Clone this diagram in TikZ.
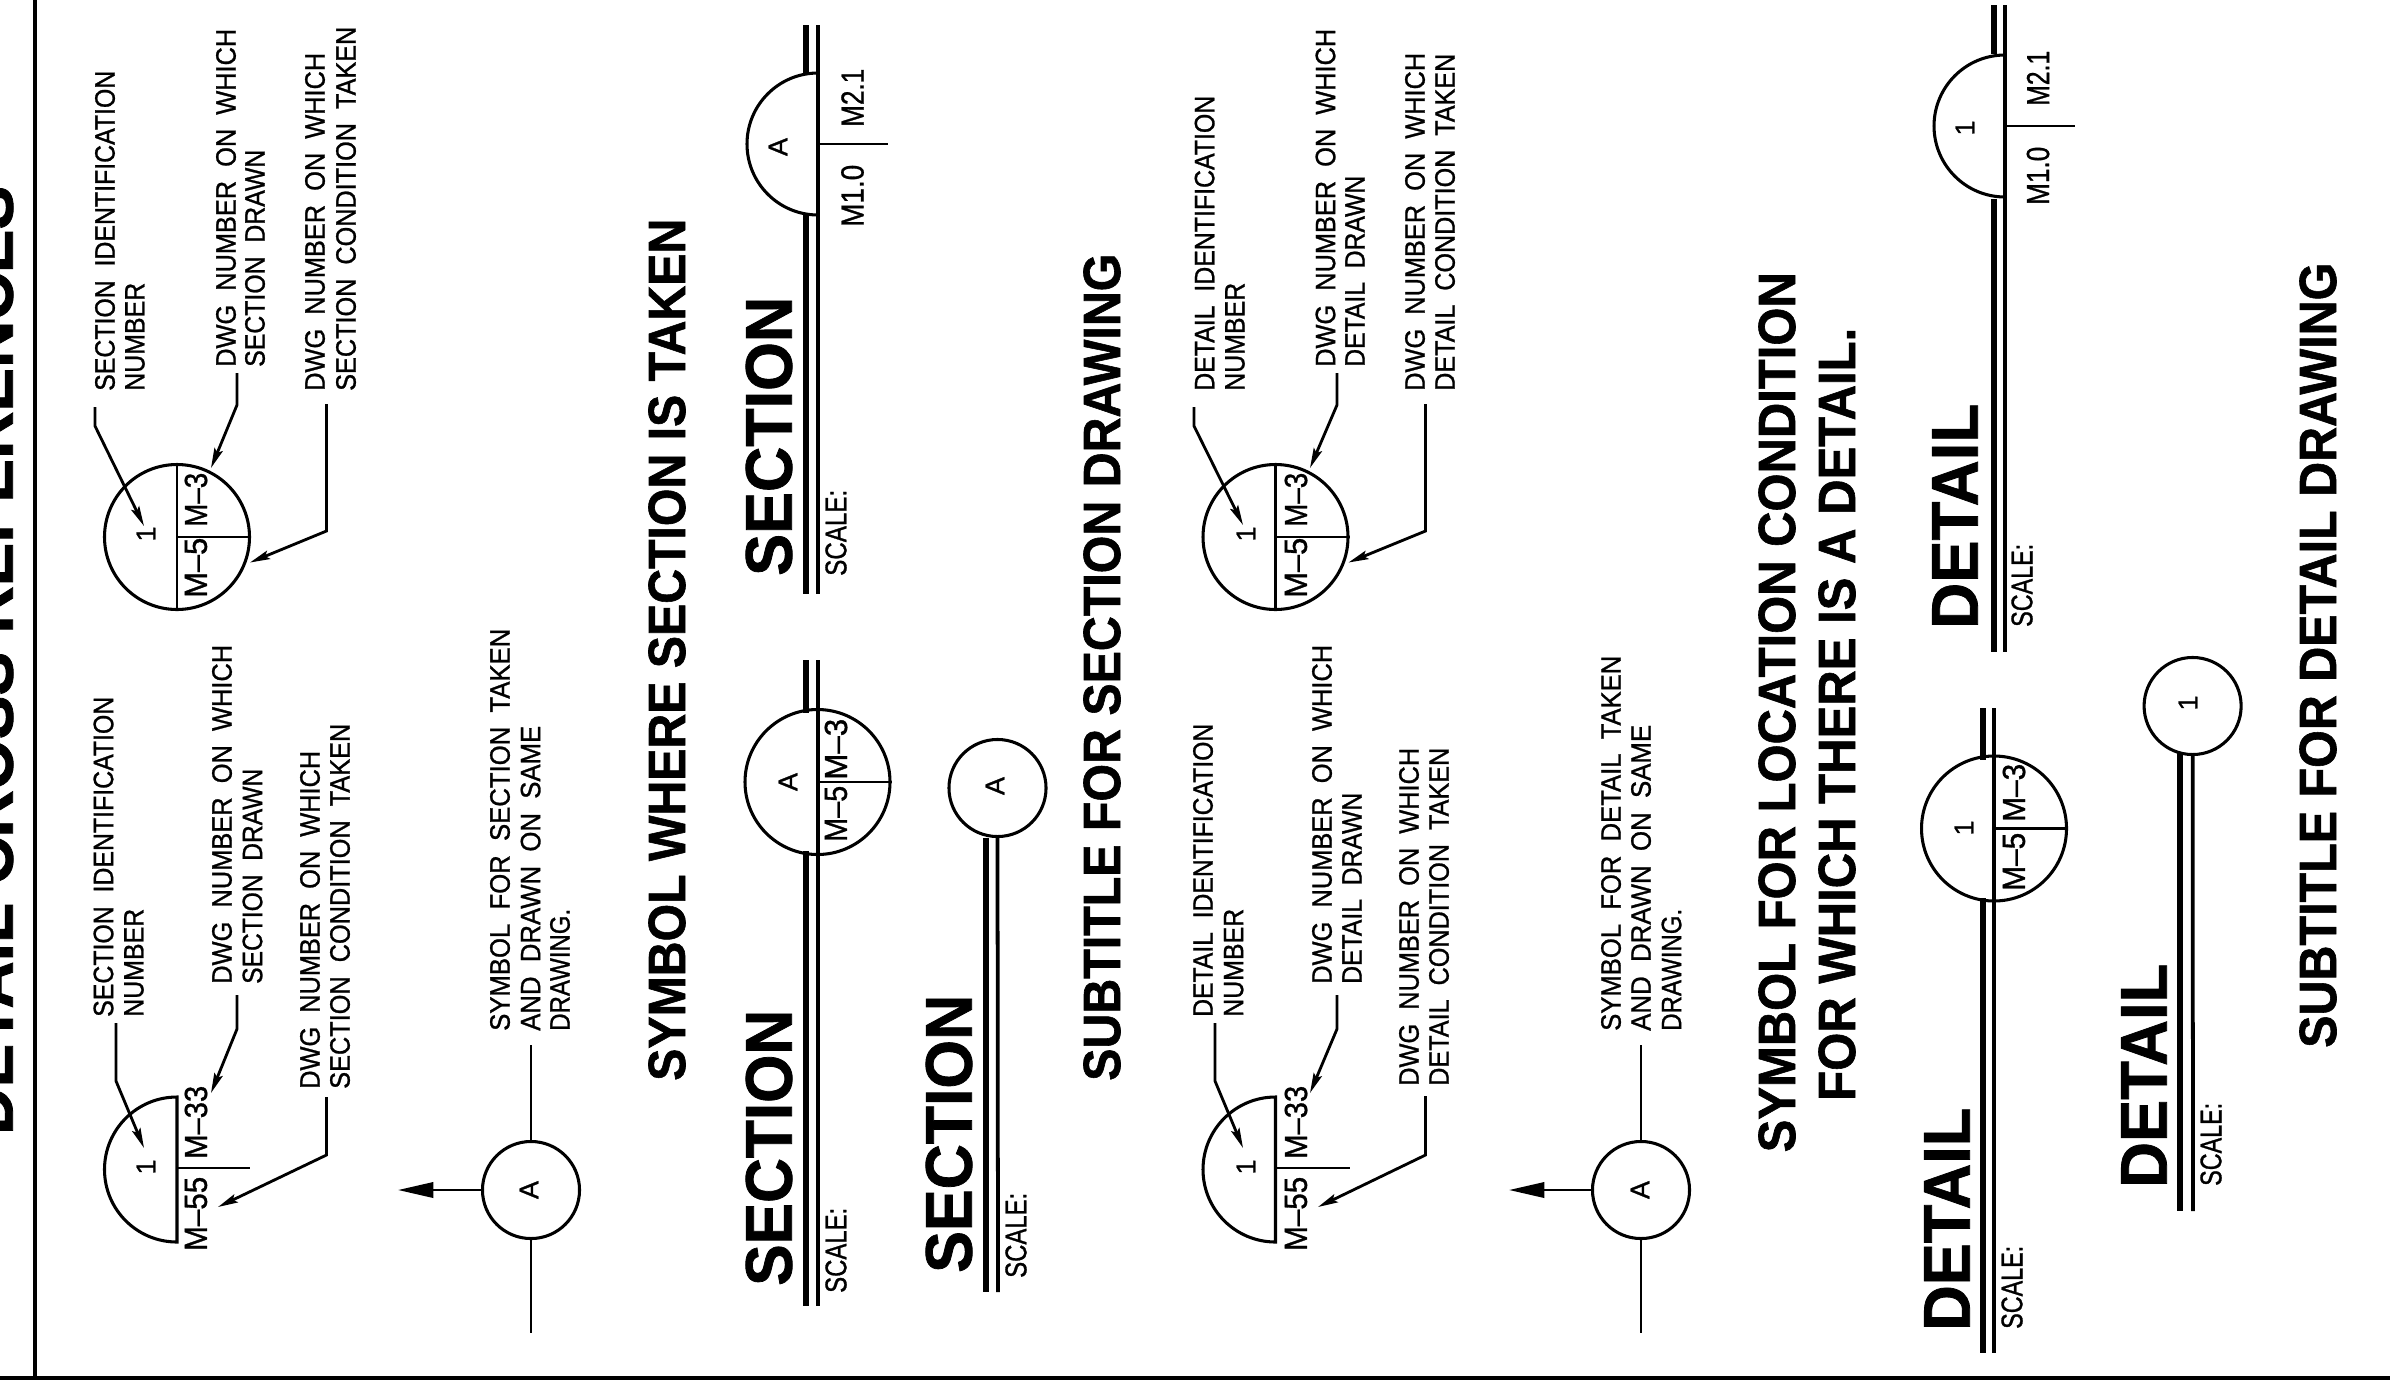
\documentclass[tikz,border=0pt]{standalone}
\usepackage{graphicx}
\usepackage{fontspec}
\setmainfont{Liberation Sans}
\newfontfamily\labf[RawFeature={embolden=1.0}]{Liberation Sans}
\newfontfamily\bigf[RawFeature={embolden=1.2}]{Liberation Sans}
\usetikzlibrary{arrows.meta}
\newdimen\pxu \pxu=0.85pt
\newcommand{\tx}[6]{\node[#2] (#1) at (#3,#4) {\resizebox{#5\pxu}{\height}{#6}};}
\newcommand{\leaderline}[4]{%
  \coordinate (#1-a) at #2; \coordinate (#1-b) at #3; \coordinate (#1-c) at #4;
  \draw[leader] (#1-a) -- (#1-b) -- (#1-c);}
\tikzset{
  rot/.style={rotate=90,inner sep=0pt,anchor=west},
  lab/.style={rot,font=\labf\fontsize{23.8pt}{24pt}\selectfont},
  sym/.style={rot,font=\labf\fontsize{27.2pt}{28pt}\selectfont},
  scl/.style={rot,font=\labf\fontsize{25.5pt}{26pt}\selectfont},
  ttl/.style={rot,font=\bigf\fontsize{44.5pt}{45pt}\selectfont\bfseries},
  big/.style={rot,font=\bigf\fontsize{56pt}{57pt}\selectfont\bfseries},
  mrk/.style={rotate=90,inner sep=0pt,anchor=center,font=\labf\fontsize{23pt}{24pt}\selectfont},
  bigcirc/.style={circle,draw,line width=2.6pt,inner sep=0pt,minimum size=123.25pt},
  smallcirc/.style={circle,draw,line width=2.6pt,inner sep=0pt,minimum size=82.5pt},
  arcline/.style={line width=2.6pt},
  hair/.style={line width=2pt},
  leader/.style={line width=2.4pt,-{Stealth[length=17pt,width=7.5pt,inset=3pt]}},
  plain/.style={line width=2.2pt},
  cut/.style={line width=2.2pt,-{Stealth[length=30pt,width=13pt,inset=0pt]}},
  thickrule/.style={line width=5.6pt},
  thinrule/.style={line width=3.2pt},
  frameline/.style={line width=3pt},
}
\begin{document}
\begin{tikzpicture}[x=0.85pt,y=-0.85pt]
\useasboundingbox (0,0) rectangle (2390,1386);
\fill[white] (0,0) rectangle (2390,1386);
\clip (0,0) rectangle (2390,1386);
% frame
\coordinate (f1) at (35,0); \coordinate (f2) at (35,1378);
\coordinate (f3) at (0,1378); \coordinate (f4) at (2390,1378);
\draw[frameline] (f1) -- (f2);
\draw[frameline,line width=3.4pt] (f3) -- (f4);
\node[big,anchor=base west] (maintitle) at (12.7,1135) {\resizebox{949\pxu}{\height}{DETAIL CROSS REFERENCES}};

% ---- Block A
\node[bigcirc] (ca) at (177,537) {};
\draw[hair,line width=2.4pt] (ca.north) -- (ca.south);
\draw[hair] (ca.center) -- (ca.east);
\node[mrk] (ca1) at (146,534) {1};
\tx{ca3}{sym}{196}{527}{54}{M–3}
\tx{ca5}{sym}{196}{598}{60}{M–5}
\tx{a1}{lab}{105}{391}{320}{SECTION~~IDENTIFICATION}
\tx{a2}{lab}{135}{391}{108}{NUMBER}
\leaderline{la1}{(95,407)}{(95,426)}{(144,526)}
\tx{a3}{lab}{226}{367}{338}{DWG~~NUMBER~~ON~~WHICH}
\tx{a4}{lab}{255}{367}{217}{SECTION~~DRAWN}
\leaderline{la2}{(237,373)}{(237,405)}{(211,468)}
\tx{a5}{lab}{315}{391}{338}{DWG~~NUMBER~~ON~~WHICH}
\tx{a6}{lab}{346}{391}{364}{SECTION~~CONDITION~~TAKEN}
\leaderline{la3}{(326.5,404)}{(326.5,531)}{(250,562.5)}

% ---- Block B
\coordinate (hb-t) at (177,1097); \coordinate (hb-c) at (177,1168); \coordinate (hb-e) at (250,1168);
\draw[arcline] (hb-t) arc[start angle=-90,end angle=-270,radius=72.5] -- cycle;
\draw[hair] (hb-c) -- (hb-e);
\node[mrk] (hb1) at (146,1167) {1};
\tx{hb3}{sym}{196}{1159}{73}{M–33}
\tx{hb5}{sym}{196}{1251}{74}{M–55}
\tx{b1}{lab}{103.5}{1017}{320}{SECTION~~IDENTIFICATION}
\tx{b2}{lab}{134}{1017}{108}{NUMBER}
\leaderline{lb1}{(116,1023)}{(116,1081)}{(144,1148)}
\tx{b3}{lab}{222}{984}{339}{DWG~~NUMBER~~ON~~WHICH}
\tx{b4}{lab}{252.5}{984}{215}{SECTION~~DRAWN}
\leaderline{lb2}{(237,995)}{(237,1029)}{(211,1093)}
\tx{b5}{lab}{310}{1089}{338}{DWG~~NUMBER~~ON~~WHICH}
\tx{b6}{lab}{340}{1089}{365}{SECTION~~CONDITION~~TAKEN}
\leaderline{lb3}{(326.5,1097)}{(326.5,1155)}{(218,1207)}

% ---- Symbol A (section)
\node[smallcirc] (sa) at (531,1190) {};
\node[mrk] (saA) at (529,1190) {A};
\coordinate (sa-t) at (531,1045); \coordinate (sa-b) at (531,1333); \coordinate (sa-l) at (398,1190);
\draw[plain] (sa-t) -- (sa.north);
\draw[plain] (sa.south) -- (sa-b);
\draw[cut] (sa.west) -- (sa-l);
\tx{s1}{lab}{500}{1031}{402}{SYMBOL~~FOR~~SECTION~~TAKEN}
\tx{s2}{lab}{530.6}{1031}{305}{AND~~DRAWN~~ON~~SAME}
\tx{s3}{lab}{560}{1031}{122}{DRAWING.}

\tx{t1}{ttl}{667}{1081}{862}{SYMBOL WHERE SECTION IS TAKEN}

% ---- SECTION with half circle (top)
\tx{u1}{big}{769}{576}{279}{SECTION}
\coordinate (u-tt) at (806,25); \coordinate (u-tb) at (806,74);
\coordinate (u-bt) at (806,215); \coordinate (u-bb) at (806,594);
\coordinate (u-nt) at (818,25); \coordinate (u-nb) at (818,594);
\coordinate (u-at) at (818,73); \coordinate (u-h1) at (818,144); \coordinate (u-h2) at (888,144);
\draw[thickrule] (u-tt) -- (u-tb);
\draw[thickrule] (u-bt) -- (u-bb);
\draw[thinrule] (u-nt) -- (u-nb);
\draw[arcline] (u-at) arc[start angle=-90,end angle=-270,radius=71];
\draw[hair] (u-h1) -- (u-h2);
\node[mrk] (uA) at (778,147) {A};
\tx{u2}{sym}{852.5}{127}{58}{M2.1}
\tx{u3}{sym}{852.5}{227}{62}{M1.0}
\tx{u4}{scl}{836}{576}{86}{SCALE:}

% ---- SECTION with full circle
\tx{v1}{big}{769}{1286}{276}{SECTION}
\node[bigcirc] (vc) at (817.5,782) {};
\coordinate (v-tt) at (806,660); \coordinate (v-tb) at (806,713);
\coordinate (v-bt) at (806,851); \coordinate (v-bb) at (806,1306);
\coordinate (v-nt) at (818,660); \coordinate (v-nb) at (818,1306);
\draw[thickrule] (v-tt) -- (v-tb);
\draw[thickrule] (v-bt) -- (v-bb);
\draw[thinrule] (v-nt) -- (v-nb);
\draw[hair] (vc.center) -- (vc.east);
\node[mrk] (vA) at (788,782) {A};
\tx{v3}{sym}{836}{780}{61}{M–3}
\tx{v5}{sym}{836}{842}{56}{M–5}
\tx{v4}{scl}{836}{1293}{85}{SCALE:}

% ---- SECTION with small circle
\tx{w1}{big}{949}{1273}{278}{SECTION}
\node[smallcirc] (wc) at (997.5,788) {};
\coordinate (w-tb) at (986,838); \coordinate (w-bb) at (986,1292);
\coordinate (w-nb) at (998,1292);
\draw[thickrule] (w-tb) -- (w-bb);
\draw[thinrule] (wc.south) -- (w-nb);
\node[mrk] (wA) at (995,786) {A};
\tx{w4}{scl}{1016}{1278}{85}{SCALE:}

\tx{t2}{ttl}{1102}{1081}{827}{SUBTITLE FOR SECTION DRAWING}

% ---- Block C
\node[bigcirc] (cc) at (1275.5,537) {};
\draw[hair,line width=2.4pt] (cc.north) -- (cc.south);
\draw[hair] (cc.center) -- (cc.east);
\node[mrk] (cc1) at (1246,534) {1};
\tx{cc3}{sym}{1296}{527}{54}{M–3}
\tx{cc5}{sym}{1296}{598}{60}{M–5}
\tx{c1}{lab}{1204.6}{391}{295}{DETAIL~~IDENTIFICATION}
\tx{c2}{lab}{1235}{391}{108}{NUMBER}
\leaderline{lc1}{(1194,407)}{(1194,426)}{(1243,525)}
\tx{c3}{lab}{1325.5}{367}{338}{DWG~~NUMBER~~ON~~WHICH}
\tx{c4}{lab}{1355}{367}{191}{DETAIL~~DRAWN}
\leaderline{lc2}{(1337,373)}{(1337,405)}{(1310,468)}
\tx{c5}{lab}{1415}{391}{338}{DWG~~NUMBER~~ON~~WHICH}
\tx{c6}{lab}{1445}{391}{337}{DETAIL~~CONDITION~~TAKEN}
\leaderline{lc3}{(1425.5,404)}{(1425.5,531)}{(1348.5,562.5)}

% ---- Block D
\coordinate (hd-t) at (1275.5,1097); \coordinate (hd-c) at (1275.5,1168); \coordinate (hd-e) at (1349.5,1168);
\draw[arcline] (hd-t) arc[start angle=-90,end angle=-270,radius=72.5] -- cycle;
\draw[hair] (hd-c) -- (hd-e);
\node[mrk] (hd1) at (1246,1167) {1};
\tx{hd3}{sym}{1296}{1159}{73}{M–33}
\tx{hd5}{sym}{1296}{1251}{74}{M–55}
\tx{d1}{lab}{1203}{1017}{293}{DETAIL~~IDENTIFICATION}
\tx{d2}{lab}{1233.7}{1017}{108}{NUMBER}
\leaderline{ld1}{(1215,1023)}{(1215,1081)}{(1243,1148)}
\tx{d3}{lab}{1322}{984}{339}{DWG~~NUMBER~~ON~~WHICH}
\tx{d4}{lab}{1352}{984}{191}{DETAIL~~DRAWN}
\leaderline{ld2}{(1337,995)}{(1337,1029)}{(1310,1093)}
\tx{d5}{lab}{1409}{1086}{338}{DWG~~NUMBER~~ON~~WHICH}
\tx{d6}{lab}{1439}{1086}{338}{DETAIL~~CONDITION~~TAKEN}
\leaderline{ld3}{(1425.5,1096)}{(1425.5,1155)}{(1318,1207)}

% ---- Symbol A (detail)
\node[smallcirc] (sd) at (1641,1190) {};
\node[mrk] (sdA) at (1640,1190) {A};
\coordinate (sd-t) at (1641,1045); \coordinate (sd-b) at (1641,1333); \coordinate (sd-l) at (1509,1190);
\draw[plain] (sd-t) -- (sd.north);
\draw[plain] (sd.south) -- (sd-b);
\draw[cut] (sd.west) -- (sd-l);
\tx{e1}{lab}{1611}{1031}{375}{SYMBOL~~FOR~~DETAIL~~TAKEN}
\tx{e2}{lab}{1641}{1031}{306}{AND~~DRAWN~~ON~~SAME}
\tx{e3}{lab}{1671.5}{1031}{122}{DRAWING.}

\tx{t3}{ttl}{1777}{1152.5}{880}{SYMBOL FOR LOCATION CONDITION}
\tx{t4}{ttl}{1837}{1101}{773}{FOR WHICH THERE IS A DETAIL.}

% ---- DETAIL with half circle
\tx{x1}{big}{1955}{629}{225}{DETAIL}
\coordinate (x-tt) at (1994,5); \coordinate (x-tb) at (1994,54);
\coordinate (x-bt) at (1994,199); \coordinate (x-bb) at (1994,652);
\coordinate (x-nt) at (2005,5); \coordinate (x-nb) at (2005,652);
\coordinate (x-at) at (2005,55); \coordinate (x-h1) at (2005,126); \coordinate (x-h2) at (2075,126);
\draw[thickrule] (x-tt) -- (x-tb);
\draw[thickrule] (x-bt) -- (x-bb);
\draw[thinrule] (x-nt) -- (x-nb);
\draw[arcline] (x-at) arc[start angle=-90,end angle=-270,radius=71];
\draw[hair] (x-h1) -- (x-h2);
\node[mrk] (x1a) at (1965,128) {1};
\tx{x2}{sym}{2038}{106}{55}{M2.1}
\tx{x3}{sym}{2038}{205}{58}{M1.0}
\tx{x4}{scl}{2022}{627}{83}{SCALE:}

% ---- DETAIL with full circle
\tx{y1}{big}{1947}{1331}{223}{DETAIL}
\node[bigcirc] (yc) at (1994,828.5) {};
\coordinate (y-tt) at (1983,708); \coordinate (y-tb) at (1983,760);
\coordinate (y-bt) at (1983,898); \coordinate (y-bb) at (1983,1353);
\coordinate (y-nt) at (1994,708); \coordinate (y-nb) at (1994,1353);
\draw[thickrule] (y-tt) -- (y-tb);
\draw[thickrule] (y-bt) -- (y-bb);
\draw[thinrule] (y-nt) -- (y-nb);
\draw[hair] (yc.center) -- (yc.east);
\node[mrk] (y1a) at (1964,828) {1};
\tx{y3}{sym}{2014}{822}{58}{M–3}
\tx{y5}{sym}{2014}{891}{58}{M–5}
\tx{y4}{scl}{2012}{1329}{83}{SCALE:}

% ---- DETAIL with small circle
\tx{z1}{big}{2144}{1188}{224}{DETAIL}
\node[smallcirc] (zc) at (2192.6,706) {};
\coordinate (z-tb) at (2180,752); \coordinate (z-bb) at (2180,1211);
\coordinate (z-nb) at (2193,1211);
\draw[thickrule] (z-tb) -- (z-bb);
\draw[thinrule] (zc.south) -- (z-nb);
\node[mrk] (z1a) at (2188,703) {1};
\tx{z4}{scl}{2211}{1186}{83}{SCALE:}

\tx{t5}{ttl}{2318}{1048}{785}{SUBTITLE FOR DETAIL DRAWING}
\end{tikzpicture}
\end{document}
